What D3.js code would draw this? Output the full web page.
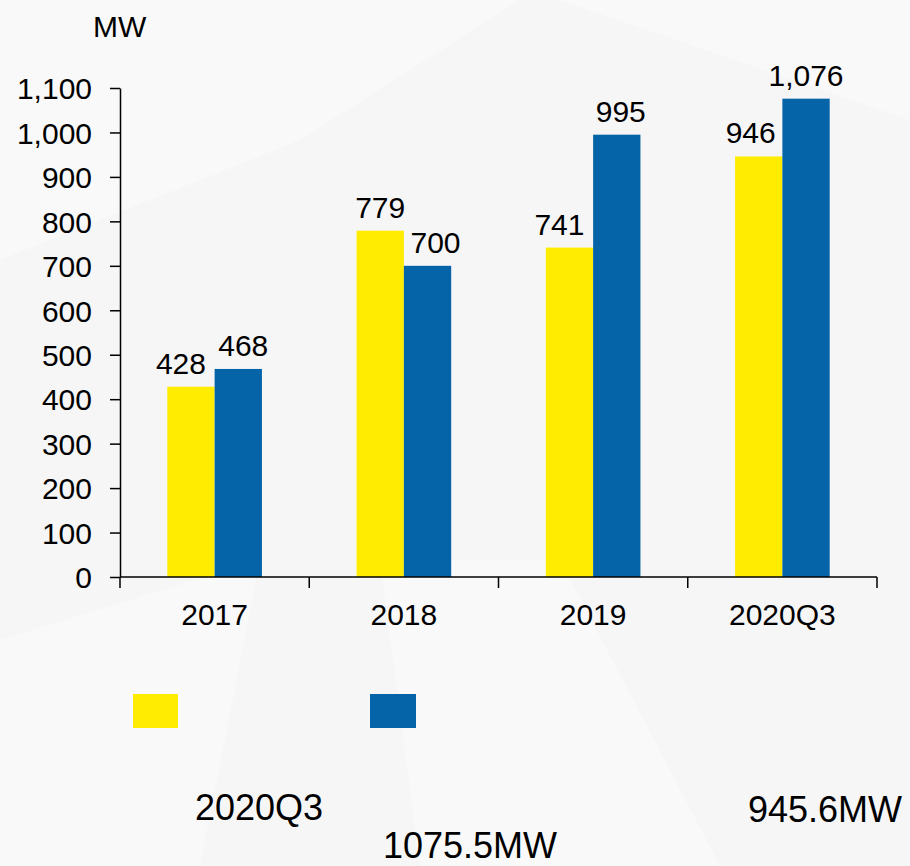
<!DOCTYPE html>
<html>
<head>
<meta charset="utf-8">
<script src="https://cdn.jsdelivr.net/npm/d3@7"></script>
<style>
  html, body { margin: 0; padding: 0; background: #f6f6f6; }
  svg { display: block; font-family: "Liberation Sans", Arial, sans-serif; }
</style>
</head>
<body>
<div id="chart-area"></div>
<script>
const categories = ["2017", "2018", "2019", "2020Q3"];
const seriesA = [428, 779, 741, 946];
const seriesB = [468, 700, 995, 1076];
const yTicks = [0, 100, 200, 300, 400, 500, 600, 700, 800, 900, 1000, 1100];
const notes = ["2020Q3", "945.6MW", "1075.5MW"];

const W = 910, H = 866;
const margin = { top: 88, right: 33, bottom: 289, left: 120 };
const width = W - margin.left - margin.right;
const height = H - margin.top - margin.bottom;
const colors = ["#ffec00", "#0563a7"];
// small horizontal nudges of the value labels, as in the original
const labelShift = [[-10, 5], [0, 8], [-10, 4], [-8, 0]];

const root = d3.select("#chart-area")
  .append("svg")
    .attr("width", W)
    .attr("height", H);

// faint background shapes
root.append("rect").attr("width", W).attr("height", H).attr("fill", "#f6f6f6");
const shapes = [
  [[0, 0], [520, 0], [300, 140], [0, 260]],
  [[560, 0], [910, 0], [910, 120]],
  [[380, 560], [560, 560], [720, 866], [420, 866]],
  [[0, 640], [260, 560], [200, 866], [0, 866]]
];
root.selectAll("polygon")
  .data(shapes)
  .enter()
  .append("polygon")
    .attr("points", d => d.map(p => p.join(",")).join(" "))
    .attr("fill", "#f9f9f9");

const svg = root.append("g")
  .attr("transform", `translate(${margin.left},${margin.top})`);

const x0 = d3.scaleBand()
  .domain(categories)
  .range([0, width]);

const x1 = d3.scaleBand()
  .domain([0, 1])
  .range([x0.bandwidth() * 0.25, x0.bandwidth() * 0.75]);

const y = d3.scaleLinear()
  .domain([0, 1100])
  .range([height, 0]);

const rows = categories.map((c, i) => ({ cat: c, i, vals: [seriesA[i], seriesB[i]] }));

const groups = svg.selectAll(".grp")
  .data(rows)
  .enter()
  .append("g")
    .attr("class", "grp")
    .attr("transform", d => `translate(${x0(d.cat)},0)`);

groups.selectAll("rect")
  .data(d => d.vals.map((v, k) => ({ v, k, i: d.i })))
  .enter()
  .append("rect")
    .attr("x", d => x1(d.k))
    .attr("width", x1.bandwidth())
    .attr("y", d => y(d.v))
    .attr("height", d => height - y(d.v))
    .attr("fill", d => colors[d.k]);

groups.selectAll("text")
  .data(d => d.vals.map((v, k) => ({ v, k, i: d.i })))
  .enter()
  .append("text")
    .attr("x", d => x1(d.k) + x1.bandwidth() / 2 + labelShift[d.i][d.k])
    .attr("y", d => y(d.v) - 13)
    .attr("text-anchor", "middle")
    .style("font-size", "30px")
    .attr("fill", "#000")
    .text(d => d3.format(",")(d.v));

// y axis
const yAxis = svg.append("g")
  .call(d3.axisLeft(y).tickValues(yTicks).tickFormat(d3.format(",")).tickSize(10).tickSizeOuter(0).tickPadding(18));
yAxis.selectAll("text").style("font-size", "30px").attr("fill", "#000").attr("dy", "0.36em");
yAxis.selectAll("line, path").attr("stroke", "#000").attr("stroke-width", 1.5);

// x axis with ticks at category boundaries
const xAxis = svg.append("g")
  .attr("transform", `translate(0,${height})`);
xAxis.append("line")
  .attr("x1", 0).attr("x2", width)
  .attr("stroke", "#000").attr("stroke-width", 1.5);
const bounds = categories.map(c => x0(c)).concat([width]);
xAxis.selectAll(".tk")
  .data(bounds)
  .enter()
  .append("line")
    .attr("class", "tk")
    .attr("x1", d => d).attr("x2", d => d)
    .attr("y1", 0).attr("y2", 11)
    .attr("stroke", "#000").attr("stroke-width", 1.5);
xAxis.selectAll(".lbl")
  .data(categories)
  .enter()
  .append("text")
    .attr("class", "lbl")
    .attr("x", d => x0(d) + x0.bandwidth() / 2)
    .attr("y", 48)
    .attr("text-anchor", "middle")
    .style("font-size", "30px")
    .text(d => d);

// unit label
root.append("text")
  .attr("x", 93)
  .attr("y", 37)
  .style("font-size", "30px")
  .text("MW");

// legend swatches
const legendX = [133, 370];
root.selectAll(".leg")
  .data(colors)
  .enter()
  .append("rect")
    .attr("class", "leg")
    .attr("x", (d, i) => legendX[i])
    .attr("y", 694)
    .attr("width", (d, i) => i === 0 ? 45 : 46)
    .attr("height", 34)
    .attr("fill", d => d);

// notes at bottom
const notePos = [[195, 820], [748, 822], [383, 858]];
root.selectAll(".note")
  .data(notes)
  .enter()
  .append("text")
    .attr("class", "note")
    .attr("x", (d, i) => notePos[i][0])
    .attr("y", (d, i) => notePos[i][1])
    .style("font-size", "36px")
    .text(d => d);
</script>
</body>
</html>
